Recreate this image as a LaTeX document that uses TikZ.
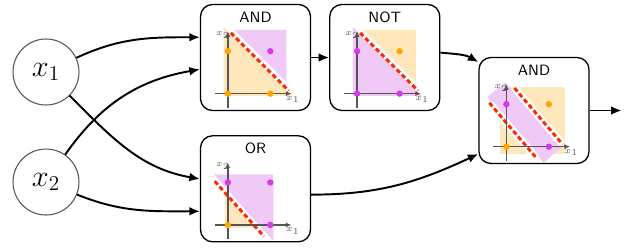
\documentclass[tikz,border=0pt]{standalone}
\usepackage{amsmath}
\usetikzlibrary{positioning,arrows.meta,calc}

\definecolor{dotorange}{RGB}{255,165,0}
\definecolor{dotpurple}{RGB}{210,60,230}
\definecolor{fillorange}{RGB}{255,231,188}
\definecolor{fillpurple}{RGB}{240,201,246}
\definecolor{sepred}{RGB}{255,40,0}
\definecolor{axisgray}{RGB}{85,85,85}

\tikzset{
    gatebox/.style={draw, line width=0.75pt, rounded corners=0.24cm,
        minimum width=2.2cm, minimum height=2.12cm, inner sep=0pt},
    gatelabel/.style={font=\sffamily\fontsize{8.5}{10}\selectfont, inner sep=0pt},
    inputnode/.style={draw=axisgray, circle, line width=0.6pt,
        minimum size=1.32cm, inner sep=0pt, font=\fontsize{17}{20}\selectfont},
    link/.style={line width=1.1pt, -{Latex[length=6pt,width=5pt]}},
    plotarea/.style={x=0.85cm, y=0.85cm},
    axisline/.style={axisgray, line width=0.8pt, -{Latex[length=3.2pt,width=2.8pt]}},
    axislabel/.style={font=\tiny, text=axisgray, inner sep=0pt},
    halo/.style={white, line width=1.7pt},
    widehalo/.style={white, line width=4.2pt},
    sepline/.style={sepred, line width=1.7pt, dash pattern=on 2.6pt off 1.6pt}
}

\begin{document}
\begin{tikzpicture}[x=0.02cm, y=-0.02cm]
\useasboundingbox (0,0) rectangle (625,247);

% Nodes
\node[inputnode] (xone) at (46,72) {$x_1$};
\node[inputnode, below=0.86cm of xone] (xtwo) {$x_2$};

\node[gatebox] (andA) at (255.5,57.5) {};
\node[gatebox, right=0.36cm of andA] (notA) {};
\node[gatebox, below=0.48cm of andA] (orA) {};
\node[gatebox] (andB) at (534,110.5) {};
\coordinate[right=0.64cm of andB] (output);

% Gate titles
\node[gatelabel] at ($(andA.north)+(0,13.5)$) {AND};
\node[gatelabel] at ($(notA.north)+(0,13.5)$) {NOT};
\node[gatelabel] at ($(orA.north)+(0,13.5)$) {OR};
\node[gatelabel] at ($(andB.north)+(0,13.5)$) {AND};

% AND plot
\begin{scope}[shift={($(andA.south west)+(28,-17.5)$)}, plotarea]
    \fill[fillorange] (-0.1,-0.05) -- (1.52,-0.05) -- (-0.1,1.57) -- cycle;
    \fill[fillpurple] (0.15,1.5) -- (1.38,1.5) -- (1.38,0.27) -- cycle;
    \draw[halo] (0.07,1.43) -- (1.43,0.07);
    \draw[sepline] (0.07,1.43) -- (1.43,0.07);
    \draw[axisline] (-0.31,0) -- (1.5,0);
    \draw[axisline] (0,-0.33) -- (0,1.47);
    \node[axislabel] at (1.53,-0.14) {$x_1$};
    \node[axislabel] at (-0.12,1.38) {$x_2$};
    \foreach \p in {(0,0),(1,0),(0,1)}
        \fill[dotorange] \p circle[radius=0.075];
    \fill[dotpurple] (1,1) circle[radius=0.075];
\end{scope}

% NOT plot
\begin{scope}[shift={($(notA.south west)+(28,-17.5)$)}, plotarea]
    \fill[fillpurple] (-0.1,-0.05) -- (1.52,-0.05) -- (-0.1,1.57) -- cycle;
    \fill[fillorange] (0.15,1.5) -- (1.38,1.5) -- (1.38,0.27) -- cycle;
    \draw[halo] (0.07,1.43) -- (1.43,0.07);
    \draw[sepline] (0.07,1.43) -- (1.43,0.07);
    \draw[axisline] (-0.31,0) -- (1.5,0);
    \draw[axisline] (0,-0.33) -- (0,1.47);
    \node[axislabel] at (1.53,-0.14) {$x_1$};
    \node[axislabel] at (-0.12,1.38) {$x_2$};
    \foreach \p in {(0,0),(1,0),(0,1)}
        \fill[dotpurple] \p circle[radius=0.075];
    \fill[dotorange] (1,1) circle[radius=0.075];
\end{scope}

% OR plot
\begin{scope}[shift={($(orA.south west)+(28,-17.5)$)}, plotarea]
    \fill[fillorange] (-0.07,-0.07) -- (0.63,-0.07) -- (-0.07,0.72) -- cycle;
    \fill[fillpurple] (-0.33,1.19) -- (1.07,1.19) -- (1.07,-0.38) -- cycle;
    \draw[halo] (-0.31,1.03) -- (0.85,-0.27);
    \draw[sepline] (-0.31,1.03) -- (0.85,-0.27);
    \draw[axisline] (-0.31,0) -- (1.5,0);
    \draw[axisline] (0,-0.33) -- (0,1.47);
    \node[axislabel] at (1.53,-0.14) {$x_1$};
    \node[axislabel] at (-0.12,1.38) {$x_2$};
    \fill[dotorange] (0,0) circle[radius=0.075];
    \foreach \p in {(1,0),(0,1),(1,1)}
        \fill[dotpurple] \p circle[radius=0.075];
\end{scope}

% second AND plot
\begin{scope}[shift={($(andB.south west)+(28,-17.5)$)}, plotarea]
    \fill[fillorange] (-0.14,-0.17) rectangle (1.38,1.4);
    \fill[fillpurple] (-0.45,1.17) -- (-0.02,1.52) -- (1.29,-0.02) -- (0.88,-0.38) -- cycle;
    \draw[widehalo] (0.19,1.38) -- (1.31,0.07);
    \draw[sepline] (0.19,1.38) -- (1.31,0.07);
    \draw[widehalo] (-0.40,1.03) -- (0.70,-0.26);
    \draw[sepline] (-0.40,1.03) -- (0.70,-0.26);
    \draw[axisline] (-0.31,0) -- (1.5,0);
    \draw[axisline] (0,-0.33) -- (0,1.47);
    \node[axislabel] at (1.53,-0.14) {$x_1$};
    \node[axislabel] at (-0.12,1.38) {$x_2$};
    \foreach \p in {(0,0),(1,1)}
        \fill[dotorange] \p circle[radius=0.075];
    \foreach \p in {(1,0),(0,1)}
        \fill[dotpurple] \p circle[radius=0.075];
\end{scope}

% Connections
\draw[link] (xone) to[out=25, in=180] (andA.160);
\draw[link] (xtwo) to[out=55, in=190] (andA.192);
\draw[link] (xone) to[out=-45, in=170] (orA.170);
\draw[link] (xtwo) to[out=-22, in=180] (orA.202);
\draw[link] (andA) -- (notA);
\draw[link] (notA.5) to[out=-5, in=150] (andB.139);
\draw[link] (orA.-6) to[out=0, in=205] (andB.218);
\draw[link] (andB) -- (output);

\end{tikzpicture}
\end{document}
